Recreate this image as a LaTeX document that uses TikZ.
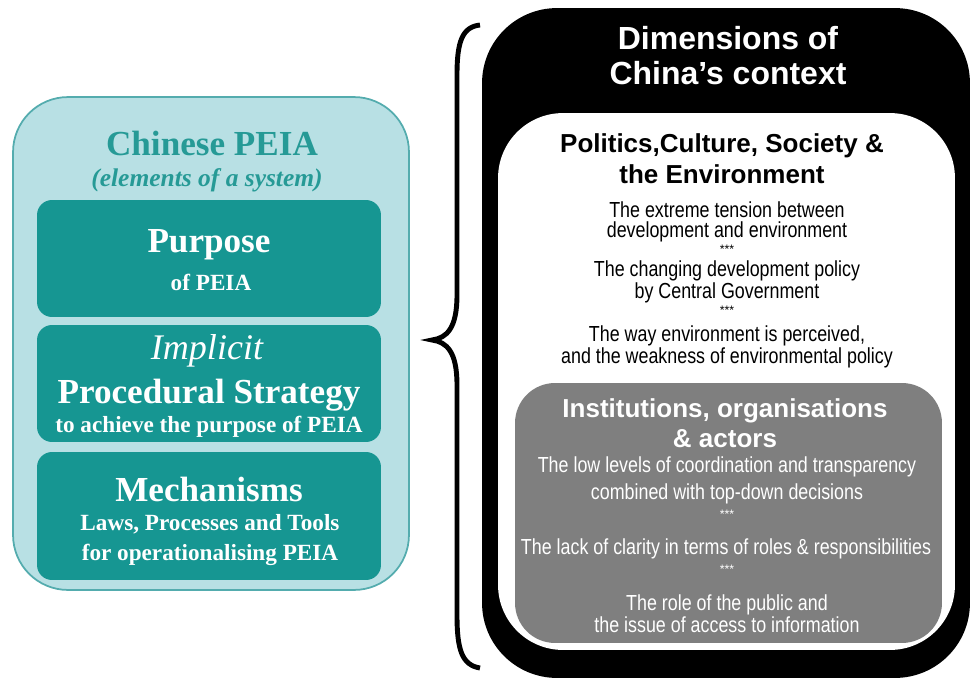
\documentclass[tikz,border=0pt]{standalone}
\usepackage{fontspec}
\setmainfont{Liberation Serif}
\setsansfont{Liberation Sans}
\newfontfamily\narrowsans[FakeStretch=0.82]{Liberation Sans}
\usetikzlibrary{decorations.pathreplacing}

\definecolor{peialight}{RGB}{184,224,228}
\definecolor{peiaedge}{RGB}{84,172,174}
\definecolor{peiadark}{RGB}{22,150,146}
\definecolor{peiatitle}{RGB}{38,154,150}
\definecolor{ctxgray}{RGB}{127,127,127}

\begin{document}
\begin{tikzpicture}[x=0.02cm,y=-0.02cm,
    peiabox/.style={rounded corners=0.3cm, fill=peiadark, minimum width=6.88cm},
    bigserif/.style={font=\fontsize{20}{22}\selectfont\bfseries, text=white, inner sep=0},
    smallserif/.style={font=\fontsize{13.2}{17}\selectfont\bfseries, text=white, inner sep=0, align=center},
    ctxhead/.style={font=\sffamily\fontsize{14.8}{17.5}\selectfont\bfseries, inner sep=0, align=center},
    ctxtext/.style={font=\narrowsans\fontsize{12.4}{11.3}\selectfont, inner sep=0, align=center},
    stars/.style={font=\sffamily\fontsize{7}{7}\selectfont, inner sep=0}]
    \useasboundingbox (0,0) rectangle (975,680);

    % left side: the system and its three elements
    \node[draw=peiaedge, fill=peialight, line width=1pt, rounded corners=1.1cm,
          minimum width=7.92cm, minimum height=9.86cm] (system) at (211,343.5) {};
    \node[font=\fontsize{20}{22}\selectfont\bfseries, text=peiatitle, inner sep=0] (systitle) at (212,143) {Chinese PEIA};
    \node[font=\fontsize{14.5}{16}\selectfont\bfseries\itshape, text=peiatitle, inner sep=0] (syssub) at (207,180) {(elements of a system)};

    \node[peiabox, minimum height=2.34cm] (purpose) at (209,258.5) {};
    \node[bigserif] (purposetitle) at (209,245) {Purpose};
    \node[smallserif] (purposetext) at (211,282) {of PEIA};

    \node[peiabox, minimum height=2.34cm] (strategy) at (209,383.5) {};
    \node[font=\fontsize{20.5}{22}\selectfont\itshape, text=white, inner sep=0] (implicit) at (207,351) {Implicit};
    \node[bigserif] (strategytitle) at (209,395) {Procedural Strategy};
    \node[smallserif] (strategytext) at (209,427) {to achieve the purpose of PEIA};

    \node[peiabox, minimum height=2.56cm] (mechanisms) at (209,516) {};
    \node[bigserif] (mechtitle) at (209,489) {Mechanisms};
    \node[smallserif] (mechtext) at (210,540) {Laws, Processes and Tools\\for operationalising PEIA};

    % the brace
    \coordinate (bracetop) at (480,25);
    \coordinate (bracetip) at (432,340);
    \coordinate (bracebot) at (480,668);
    \draw[line width=2.8pt] (bracetop) .. controls (462,27) and (457,42) .. (457,75)
        -- (457,295) .. controls (457,328) and (447,338) .. (bracetip)
        .. controls (447,342) and (457,352) .. (457,385)
        -- (457,615) .. controls (457,650) and (462,665) .. (bracebot);

    % right side: dimensions of the context
    \node[fill=black, rounded corners=1.5cm, minimum width=9.76cm, minimum height=13.4cm] (context) at (726,343) {};
    \node[font=\sffamily\fontsize{18.2}{20}\selectfont\bfseries, text=white, inner sep=0, align=center] (contexttitle) at (728,55.5) {Dimensions of\\China’s context};

    \node[fill=white, rounded corners=1.3cm, minimum width=9.14cm, minimum height=10.74cm] (politics) at (726.5,381.5) {};
    \node[ctxhead] (politicstitle) at (722,159) {Politics,Culture, Society \&\\the Environment};
    \node[ctxtext] (tension) at (727,221.5) {The extreme tension between\\development and environment};
    \node[stars] (starsa) at (727,249) {***};
    \node[ctxtext] (policy) at (727,282) {The changing development policy\\by Central Government};
    \node[stars] (starsb) at (727,310) {***};
    \node[ctxtext] (perceived) at (727,346.5) {The way environment is perceived,\\and the weakness of environmental policy};

    \node[fill=ctxgray, rounded corners=0.8cm, minimum width=8.54cm, minimum height=5.2cm] (actors) at (728.5,513) {};
    \node[ctxhead, text=white, font=\sffamily\fontsize{14.8}{17}\selectfont\bfseries] (actorstitle) at (725,423) {Institutions, organisations\\\& actors};
    \node[ctxtext, text=white, font=\narrowsans\fontsize{12.4}{15.3}\selectfont] (coordination) at (727,480) {The low levels of coordination and transparency\\combined with top-down decisions};
    \node[stars, text=white] (starsc) at (727,514) {***};
    \node[ctxtext, text=white] (clarity) at (726,549) {The lack of clarity in terms of roles \& responsibilities};
    \node[stars, text=white] (starsd) at (727,569) {***};
    \node[ctxtext, text=white] (public) at (727,614) {The role of the public and\\the issue of access to information};
\end{tikzpicture}
\end{document}
